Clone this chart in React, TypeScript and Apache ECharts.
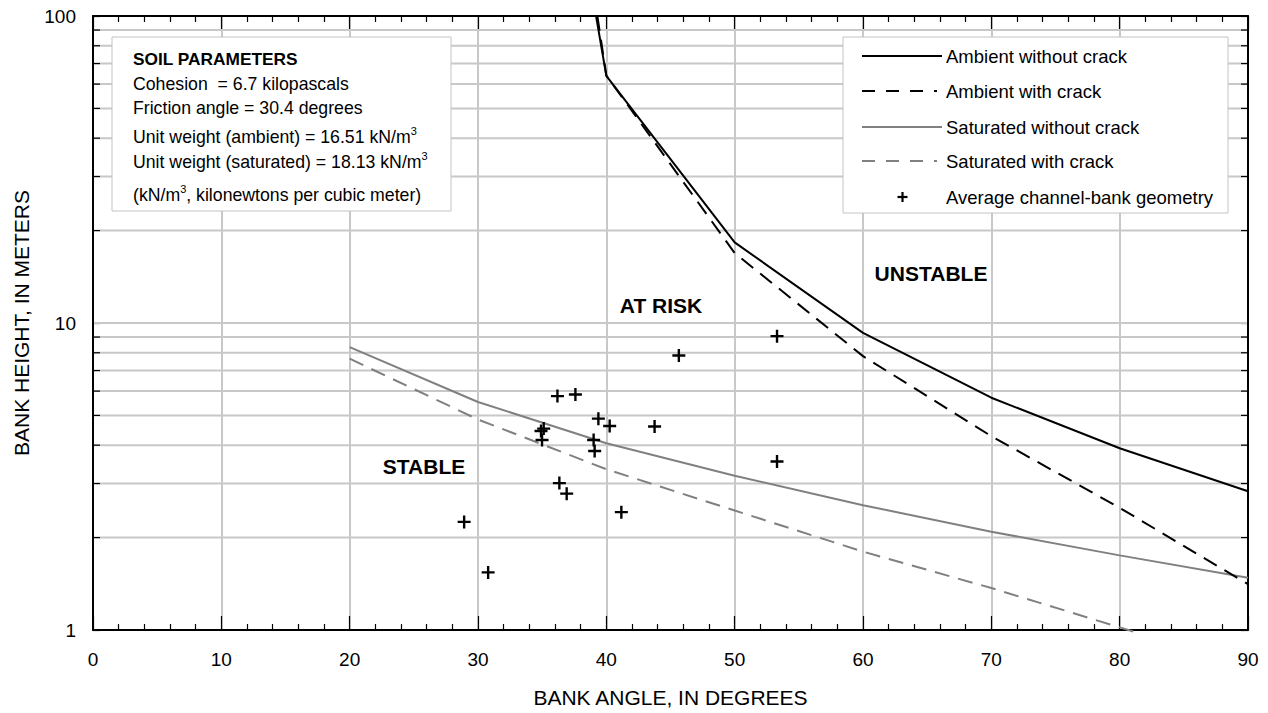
import { useEffect, useRef } from 'react';
import * as echarts from 'echarts';

const FONT = "'Liberation Sans', Arial, Helvetica, sans-serif";

// Axis ranges
const xMin = 0;
const xMax = 90;
const xStep = 10;
const yMin = 1;
const yMax = 100;

// Curves: [bank angle (deg), bank height (m)]
const ambientWithoutCrack: [number, number][] = [
  [39.2, 100], [40, 63.8], [50, 18.3], [60, 9.29], [70, 5.71], [80, 3.91], [90, 2.83],
];
const ambientWithCrack: [number, number][] = [
  [39.3, 100], [40, 64], [50, 16.9], [60, 7.8], [70, 4.28], [80, 2.5], [90, 1.41],
];
const saturatedWithoutCrack: [number, number][] = [
  [20, 8.34], [30, 5.53], [40, 4.06], [50, 3.18], [60, 2.55], [70, 2.09], [80, 1.75], [90, 1.48],
];
const saturatedWithCrack: [number, number][] = [
  [20, 7.65], [30, 4.85], [40, 3.34], [50, 2.45], [60, 1.8], [70, 1.37], [80, 1.02], [81.7, 0.97],
];
const channelBankGeometry: [number, number][] = [
  [45.65, 7.84], [36.19, 5.78], [37.59, 5.85], [39.38, 4.88], [40.26, 4.62], [43.76, 4.6],
  [35.12, 4.53], [34.91, 4.45], [34.99, 4.16], [39.01, 4.16], [39.09, 3.83], [36.34, 3.01],
  [36.91, 2.78], [41.17, 2.42], [28.92, 2.25], [30.79, 1.54], [53.3, 9.06], [53.3, 3.54],
];

// Horizontal grid / minor tick heights on the log axis
const gridHeights = [2, 3, 4, 5, 6, 7, 8, 9, 10, 20, 30, 40, 50, 60, 70, 80, 90];
const minorTickHeights = [2, 3, 4, 5, 6, 7, 8, 9, 20, 30, 40, 50, 60, 70, 80, 90];

const seriesNames = [
  'Ambient without crack',
  'Ambient with crack',
  'Saturated without crack',
  'Saturated with crack',
  'Average channel-bank geometry',
];

const soilTitle = 'SOIL PARAMETERS';
const soilLines = [
  'Cohesion  = 6.7 kilopascals',
  'Friction angle = 30.4 degrees',
  'Unit weight (ambient) = 16.51 kN/m{sup|3}',
  'Unit weight (saturated) = 18.13 kN/m{sup|3}',
  '(kN/m{sup|3}, kilonewtons per cubic meter)',
];

const regionLabels = ['STABLE', 'AT RISK', 'UNSTABLE'];
const xAxisTitle = 'BANK ANGLE, IN DEGREES';
const yAxisTitle = 'BANK HEIGHT, IN METERS';

const BLACK = '#000000';
const GRAY = '#808080';
const GRID = '#c8c8c8';
const PLUS = 'path://M4.9,0H7.1V4.9H12V7.1H7.1V12H4.9V7.1H0V4.9H4.9Z';

export default function App() {
  const ref = useRef<HTMLDivElement>(null);

  useEffect(() => {
    const chart = echarts.init(ref.current as HTMLDivElement, null, { renderer: 'svg' });

    const tickStyle = { color: BLACK, width: 1.2 };
    const axisLineStyle = { color: BLACK, width: 2 };

    // Legend graphics
    const legendRowsY = [56, 91, 127, 161, 197];
    const legendStyles = [
      { stroke: BLACK, dash: null as null | number[] },
      { stroke: BLACK, dash: [13, 11] },
      { stroke: GRAY, dash: null },
      { stroke: GRAY, dash: [13, 11] },
    ];
    const legendGraphics: any[] = [
      {
        type: 'rect',
        shape: { x: 843, y: 37, width: 385, height: 176 },
        style: { fill: '#fff', stroke: '#c4c4c4', lineWidth: 1 },
        z: 10,
      },
    ];
    seriesNames.forEach((name, i) => {
      const y = legendRowsY[i];
      if (i < 4) {
        const s = legendStyles[i];
        legendGraphics.push({
          type: 'line',
          shape: { x1: 862, y1: y, x2: i % 2 === 1 ? 937 : 942, y2: y },
          style: { stroke: s.stroke, lineWidth: 2, lineDash: s.dash || undefined },
          z: 11,
        });
      } else {
        legendGraphics.push(
          { type: 'line', shape: { x1: 897.5, y1: y, x2: 907.5, y2: y }, style: { stroke: BLACK, lineWidth: 2.2 }, z: 11 },
          { type: 'line', shape: { x1: 902.5, y1: y - 5, x2: 902.5, y2: y + 5 }, style: { stroke: BLACK, lineWidth: 2.2 }, z: 11 },
        );
      }
      legendGraphics.push({
        type: 'text',
        x: 946,
        y,
        style: { text: name, fontSize: 18.5, fontFamily: FONT, fill: BLACK, align: 'left', verticalAlign: 'middle' },
        z: 11,
      });
    });

    // Soil parameter box
    const soilRowsY = [84, 108, 137, 162, 195];
    const soilGraphics: any[] = [
      {
        type: 'rect',
        shape: { x: 112, y: 37, width: 339, height: 174 },
        style: { fill: '#fff', stroke: '#c4c4c4', lineWidth: 1 },
        z: 10,
      },
      {
        type: 'text',
        x: 133,
        y: 59,
        style: { text: soilTitle, fontSize: 17.3, fontWeight: 'bold', fontFamily: FONT, fill: BLACK, align: 'left', verticalAlign: 'middle' },
        z: 11,
      },
    ];
    soilLines.forEach((t, i) => {
      soilGraphics.push({
        type: 'text',
        x: 133,
        y: soilRowsY[i],
        style: {
          text: t,
          fontSize: 17.7,
          lineHeight: 24,
          fontFamily: FONT,
          fill: BLACK,
          align: 'left',
          verticalAlign: 'middle',
          rich: {
            sup: { fontSize: 11, lineHeight: 13, verticalAlign: 'top', fontFamily: FONT, fill: BLACK },
          },
        },
        z: 11,
      });
    });

    const regionPos = [
      [424, 466],
      [661, 305],
      [931, 273],
    ];
    const regionGraphics = regionLabels.map((t, i) => ({
      type: 'text',
      x: regionPos[i][0],
      y: regionPos[i][1],
      style: { text: t, fontSize: 21, fontWeight: 'bold', fontFamily: FONT, fill: BLACK, align: 'center', verticalAlign: 'middle' },
      z: 11,
    }));

    const xAxisCommon = {
      type: 'value',
      min: xMin,
      max: xMax,
      interval: xStep,
      axisLine: { show: true, onZero: false, lineStyle: axisLineStyle },
      axisTick: { show: true, inside: true, length: 14, lineStyle: tickStyle },
      minorTick: { show: true, splitNumber: 5, length: 6, lineStyle: tickStyle },
    };
    const yAxisCommon = {
      type: 'log',
      logBase: 10,
      min: yMin,
      max: yMax,
      axisLine: { show: true, onZero: false, lineStyle: axisLineStyle },
      axisTick: { show: true, inside: true, length: 7, lineStyle: tickStyle },
      splitLine: { show: false },
    };

    chart.setOption({
      animation: false,
      backgroundColor: '#ffffff',
      textStyle: { fontFamily: FONT },
      grid: { left: 93, right: 20, top: 16, bottom: 82 },
      xAxis: [
        {
          ...xAxisCommon,
          position: 'bottom',
          name: xAxisTitle,
          nameLocation: 'middle',
          nameGap: 57,
          nameTextStyle: { fontSize: 21, color: BLACK, fontFamily: FONT },
          axisLabel: { fontSize: 19, color: BLACK, margin: 20, fontFamily: FONT },
          splitLine: { show: true, lineStyle: { color: GRID, width: 2 } },
        },
        {
          ...xAxisCommon,
          position: 'top',
          axisLabel: { show: false },
          splitLine: { show: false },
        },
      ],
      yAxis: [
        {
          ...yAxisCommon,
          position: 'left',
          name: yAxisTitle,
          nameLocation: 'middle',
          nameGap: 61,
          nameRotate: 90,
          nameTextStyle: { fontSize: 21, color: BLACK, fontFamily: FONT },
          axisLabel: { fontSize: 19, color: BLACK, margin: 17, fontFamily: FONT },
        },
        {
          ...yAxisCommon,
          position: 'right',
          axisLabel: { show: false },
        },
      ],
      graphic: [...soilGraphics, ...legendGraphics, ...regionGraphics],
      series: [
        {
          type: 'custom',
          silent: true,
          z: 1,
          data: gridHeights.map((v) => [xMin, v]),
          renderItem: (_p: any, api: any) => {
            const v = api.value(1);
            const a = api.coord([xMin, v]);
            const b = api.coord([xMax, v]);
            return {
              type: 'line',
              shape: { x1: a[0] + 1, y1: a[1], x2: b[0] - 1, y2: b[1] },
              style: { stroke: GRID, lineWidth: 2 },
            };
          },
        },
        {
          type: 'custom',
          silent: true,
          z: 3,
          data: minorTickHeights.map((v) => [xMin, v]),
          renderItem: (_p: any, api: any) => {
            const v = api.value(1);
            const a = api.coord([xMin, v]);
            const b = api.coord([xMax, v]);
            return {
              type: 'group',
              children: [
                { type: 'line', shape: { x1: a[0], y1: a[1], x2: a[0] + 7, y2: a[1] }, style: { stroke: BLACK, lineWidth: 1.2 } },
                { type: 'line', shape: { x1: b[0] - 7, y1: b[1], x2: b[0], y2: b[1] }, style: { stroke: BLACK, lineWidth: 1.2 } },
              ],
            };
          },
        },
        {
          name: seriesNames[2],
          type: 'line',
          data: saturatedWithoutCrack,
          symbol: 'none',
          lineStyle: { color: GRAY, width: 2 },
          itemStyle: { color: GRAY },
          z: 4,
        },
        {
          name: seriesNames[3],
          type: 'line',
          data: saturatedWithCrack,
          symbol: 'none',
          clip: false,
          lineStyle: { color: GRAY, width: 2, type: [15, 9] },
          itemStyle: { color: GRAY },
          z: 4,
        },
        {
          name: seriesNames[0],
          type: 'line',
          data: ambientWithoutCrack,
          symbol: 'none',
          lineStyle: { color: BLACK, width: 2 },
          itemStyle: { color: BLACK },
          z: 5,
        },
        {
          name: seriesNames[1],
          type: 'line',
          data: ambientWithCrack,
          symbol: 'none',
          lineStyle: { color: BLACK, width: 2, type: [15, 9] },
          itemStyle: { color: BLACK },
          z: 5,
        },
        {
          name: seriesNames[4],
          type: 'scatter',
          data: channelBankGeometry,
          symbol: PLUS,
          symbolSize: 13,
          itemStyle: { color: BLACK, opacity: 1 },
          z: 6,
        },
      ],
    });

    return () => {
      chart.dispose();
    };
  }, []);

  return (
    <div
      ref={ref}
      style={{ position: 'fixed', left: 0, top: 0, width: 1268, height: 713, background: '#fff' }}
    />
  );
}
